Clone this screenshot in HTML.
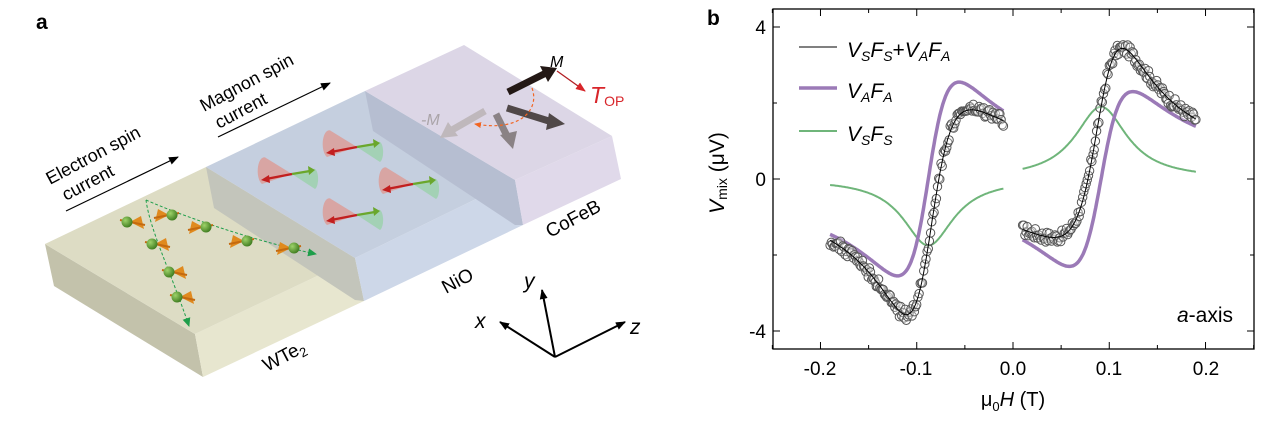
<!DOCTYPE html>
<html><head><meta charset="utf-8"><style>
html,body{margin:0;padding:0;background:#fff;}
svg{display:block;font-family:"Liberation Sans",Arial,sans-serif;}
</style></head><body>
<svg id="s" width="1269" height="430" viewBox="0 0 1269 430" xmlns="http://www.w3.org/2000/svg">
<defs>
<marker id="ah" markerWidth="10" markerHeight="8" refX="9" refY="4" orient="auto" markerUnits="userSpaceOnUse"><path d="M0,0 L10,4 L0,8 Z" fill="#000"/></marker>
<marker id="ahr" markerWidth="10" markerHeight="8" refX="9" refY="4" orient="auto" markerUnits="userSpaceOnUse"><path d="M0,0 L10,4 L0,8 Z" fill="#d8252a"/></marker>
<marker id="ahg" markerWidth="9" markerHeight="8" refX="8" refY="4" orient="auto" markerUnits="userSpaceOnUse"><path d="M0,0 L9,4 L0,8 Z" fill="#1e9e4a"/></marker>
<marker id="aho" markerWidth="7" markerHeight="6" refX="6" refY="3" orient="auto" markerUnits="userSpaceOnUse"><path d="M0,0 L7,3 L0,6 Z" fill="#f26522"/></marker>
<radialGradient id="gb" cx="0.35" cy="0.35" r="0.7"><stop offset="0" stop-color="#9ed36a"/><stop offset="1" stop-color="#3d7a1e"/></radialGradient>
</defs>
<text x="36" y="29" font-size="21" font-weight="bold">a</text>
<!-- WTe2 -->
<polygon points="45,244 195,334 203,377 54,286" fill="#c3c2ab"/>
<polygon points="195,334 355,258 364,301 203,377" fill="#e7e6cf"/>
<polygon points="45,244 206,167 355,258 195,334" fill="#dddcc4"/>
<!-- NiO -->
<polygon points="206,167 214,208 355,300 364,301 355,258" fill="#c3c5bb"/>
<polygon points="355,258 515,180 523,225 364,301" fill="#cdd7e8"/>
<polygon points="206,167 365,91 515,180 355,258" fill="#c5cfdf"/>
<!-- CoFeB -->
<polygon points="365,91 373,131 515,225 523,225 515,180" fill="#b6bed1"/>
<polygon points="515,180 612,136 621,179 523,225" fill="#e0d9ea"/>
<polygon points="365,91 464,45 612,136 515,180" fill="#dcd6e6"/>
<!-- labels -->
<g font-size="18">
<text transform="translate(50,185) rotate(-28)">Electron spin</text>
<text transform="translate(66,201) rotate(-28)">current</text>
<text transform="translate(204,112) rotate(-28)">Magnon spin</text>
<text transform="translate(219,129) rotate(-28)">current</text>
<text transform="translate(550,238) rotate(-28)" font-size="19">CoFeB</text>
<text transform="translate(446,294) rotate(-28)" font-size="19">NiO</text>
<text transform="translate(267,372) rotate(-28)" font-size="19">WTe<tspan font-size="13" dy="4">2</tspan></text>
</g>
<line x1="66" y1="211" x2="178" y2="157" stroke="#000" stroke-width="1.2" marker-end="url(#ah)"/>
<line x1="218" y1="137" x2="330" y2="83" stroke="#000" stroke-width="1.2" marker-end="url(#ah)"/>
<!-- axes xyz -->
<g stroke="#000" stroke-width="2" fill="none">
<line x1="555" y1="357" x2="542" y2="290" marker-end="url(#ah)"/>
<line x1="555" y1="357" x2="500" y2="322" marker-end="url(#ah)"/>
<line x1="555" y1="357" x2="625" y2="322" marker-end="url(#ah)"/>
</g>
<g font-size="21" font-style="italic">
<text x="524" y="288">y</text><text x="475" y="328">x</text><text x="630" y="334">z</text>
</g>
<!-- M arrows -->
<line x1="508" y1="92" x2="548" y2="72" stroke="#231815" stroke-width="7"/>
<polygon points="557,68 540,66 548,82" fill="#231815"/>
<line x1="557" y1="71" x2="585" y2="91" stroke="#b21e23" stroke-width="1.3" marker-end="url(#ahr)"/>
<text x="550" y="67" font-size="16" font-style="italic">M</text>
<text x="590" y="103" font-size="23" font-style="italic" fill="#d8252a">T<tspan font-style="normal" font-size="14" dy="3">OP</tspan></text>
<line x1="507" y1="108" x2="552" y2="122" stroke="#504848" stroke-width="7"/>
<polygon points="565,124 549,113 546,130" fill="#504848"/>
<line x1="496" y1="114" x2="508" y2="138" stroke="#8a8285" stroke-width="7"/>
<polygon points="513,149 500,135 517,131" fill="#8a8285"/>
<line x1="485" y1="111" x2="452" y2="130" stroke="#bfb8bc" stroke-width="7"/>
<polygon points="440,138 448,122 458,136" fill="#bfb8bc"/>
<text x="421" y="125" font-size="16" font-style="italic" fill="#aaa4a8">-M</text>
<path d="M532,88 C540,110 520,132 475,124" stroke="#f26522" stroke-width="1.2" stroke-dasharray="3,2.5" fill="none" marker-end="url(#aho)"/>
<g id="mag"></g>
<g id="ele"></g>
<!-- panel b -->
<text x="707" y="25" font-size="21" font-weight="bold">b</text>
<g id="plot"></g>
<rect x="773" y="9" width="481" height="340" fill="none" stroke="#000" stroke-width="1.3"/>
<g font-size="19" text-anchor="end">
<text x="766" y="34">4</text><text x="766" y="186">0</text><text x="766" y="338">-4</text>
</g>
<g font-size="19" text-anchor="middle">
<text x="820" y="375">-0.2</text><text x="916" y="375">-0.1</text><text x="1013" y="375">0.0</text><text x="1109" y="375">0.1</text><text x="1206" y="375">0.2</text>
<text x="1013" y="406" font-size="20">μ<tspan font-size="13" dy="5">0</tspan><tspan dy="-5" font-style="italic">H</tspan> (T)</text>
</g>
<text transform="translate(724,173) rotate(-90)" font-size="21" text-anchor="middle"><tspan font-style="italic">V</tspan><tspan font-size="14" dy="3">mix</tspan><tspan dy="-3">  (μV)</tspan></text>
<g font-size="21" font-style="italic">
<line x1="799" y1="47" x2="837" y2="47" stroke="#000" stroke-width="1"/>
<text x="847" y="57">V<tspan font-size="14" dy="4">S</tspan><tspan dy="-4">F</tspan><tspan font-size="14" dy="4">S</tspan><tspan dy="-4" font-style="normal">+</tspan>V<tspan font-size="14" dy="4">A</tspan><tspan dy="-4">F</tspan><tspan font-size="14" dy="4">A</tspan></text>
<line x1="799" y1="88" x2="837" y2="88" stroke="#9b7ab7" stroke-width="3.5"/>
<text x="847" y="98">V<tspan font-size="14" dy="4">A</tspan><tspan dy="-4">F</tspan><tspan font-size="14" dy="4">A</tspan></text>
<line x1="799" y1="131" x2="837" y2="131" stroke="#6fb57a" stroke-width="2"/>
<text x="847" y="141">V<tspan font-size="14" dy="4">S</tspan><tspan dy="-4">F</tspan><tspan font-size="14" dy="4">S</tspan></text>
</g>
<text x="1233" y="322" font-size="21" text-anchor="end"><tspan font-style="italic">a</tspan>-axis</text>
</svg>
<script>
var NS="http://www.w3.org/2000/svg";
function el(p,t,a){var e=document.createElementNS(NS,t);for(var k in a)e.setAttribute(k,a[k]);p.appendChild(e);return e;}
var plot=document.getElementById("plot");
function X(h){return 1013+h*962.6;}function Y(v){return 179-v*38;}
for(var i=-5;i<=5;i++){var x=X(i*0.05);var L=(i%2==0)?7:4;el(plot,"line",{x1:x,y1:349,x2:x,y2:349-L,stroke:"#000"});el(plot,"line",{x1:x,y1:9,x2:x,y2:9+L,stroke:"#000"});}
for(var v=-4;v<=4;v+=2){var y=Y(v);var L=(v%4==0)?7:4;el(plot,"line",{x1:773,y1:y,x2:773+L,y2:y,stroke:"#000"});el(plot,"line",{x1:1254,y1:y,x2:1254-L,y2:y,stroke:"#000"});}
var br=[{a:-0.19,b:-0.01,h0:-0.088,d:0.032,va:5.1,vs:-1.75},{a:0.01,b:0.19,h0:0.0915,d:0.033,va:4.6,vs:1.9}];
function fs(h,B){var u=h-B.h0;return B.d*B.d/(u*u+B.d*B.d);}
function fa(h,B){var u=h-B.h0;return B.d*u/(u*u+B.d*B.d);}
br.forEach(function(B){
 var pg="",pp="",pt="";
 for(var k=0;k<=180;k++){var h=B.a+(B.b-B.a)*k/180;var s=B.vs*fs(h,B),a=B.va*fa(h,B);
  pg+=(k?"L":"M")+X(h).toFixed(1)+","+Y(s).toFixed(1);pp+=(k?"L":"M")+X(h).toFixed(1)+","+Y(a).toFixed(1);pt+=(k?"L":"M")+X(h).toFixed(1)+","+Y(s+a).toFixed(1);}
 el(plot,"path",{d:pg,stroke:"#6fb57a","stroke-width":2,fill:"none"});
 el(plot,"path",{d:pp,stroke:"#9b7ab7","stroke-width":3.5,fill:"none"});
 var seed=Math.abs(B.a*1000)+7;function rnd(){seed=(seed*9301+49297)%233280;return seed/233280;}
 for(var k=0;k<=150;k++){var h=B.a+(B.b-B.a)*k/150;var v=B.vs*fs(h,B)+B.va*fa(h,B)+(rnd()-0.5)*0.3;
  el(plot,"circle",{cx:X(h).toFixed(1),cy:Y(v).toFixed(1),r:4.2,fill:"#fff","fill-opacity":0.3,stroke:"#555","stroke-width":1});}
 el(plot,"path",{d:pt,stroke:"#000","stroke-width":1,fill:"none"});
});
var mag=document.getElementById("mag");
[[357,147],[292,174],[413,184],[357,215]].forEach(function(c){
 var x=c[0],y=c[1];
 el(mag,"path",{d:"M"+x+","+y+" L"+(x-26)+","+(y-16)+" A6,13 0 0 0 "+(x-30)+","+(y+10)+" Z",fill:"#d9a09c",opacity:0.9});
 el(mag,"path",{d:"M"+x+","+y+" L"+(x+21)+","+(y-5)+" A4,10 0 0 1 "+(x+23)+","+(y+15)+" Z",fill:"#9fd0b0",opacity:0.9});
 el(mag,"line",{x1:x,y1:y,x2:x-26,y2:y+5,stroke:"#c21f1f","stroke-width":2.4});
 el(mag,"polygon",{points:(x-31)+","+(y+6)+" "+(x-23)+","+(y+1)+" "+(x-22)+","+(y+9),fill:"#c21f1f"});
 el(mag,"line",{x1:x,y1:y,x2:x+18,y2:y-3,stroke:"#6aa72c","stroke-width":2.4});
 el(mag,"polygon",{points:(x+23)+","+(y-4)+" "+(x+16)+","+(y-8)+" "+(x+17)+","+(y+1),fill:"#6aa72c"});
});
var ele=document.getElementById("ele");
el(ele,"path",{d:"M146,200 C150,230 170,270 189,326",stroke:"#1e9e4a","stroke-width":1,"stroke-dasharray":"3,2",fill:"none","marker-end":"url(#ahg)"});
el(ele,"path",{d:"M146,200 C180,215 250,240 316,254",stroke:"#1e9e4a","stroke-width":1,"stroke-dasharray":"3,2",fill:"none","marker-end":"url(#ahg)"});
[[127,222,1],[172,215,-1],[206,227,-1],[247,241,-1],[294,248,-1],[152,244,1],[169,272,1],[177,297,1]].forEach(function(c){
 var x=c[0],y=c[1],s=c[2];
 el(ele,"path",{d:"M"+(x+3*s)+","+y+" L"+(x+14*s)+","+(y-6)+" L"+(x+17*s)+","+(y+7)+" Z",fill:"#e08a1e"});
 el(ele,"line",{x1:x-7*s,y1:y-2,x2:x+18*s,y2:y+3,stroke:"#c46a10","stroke-width":2});
 el(ele,"circle",{cx:x,cy:y,r:5.5,fill:"url(#gb)"});
});
</script>
</body></html>
